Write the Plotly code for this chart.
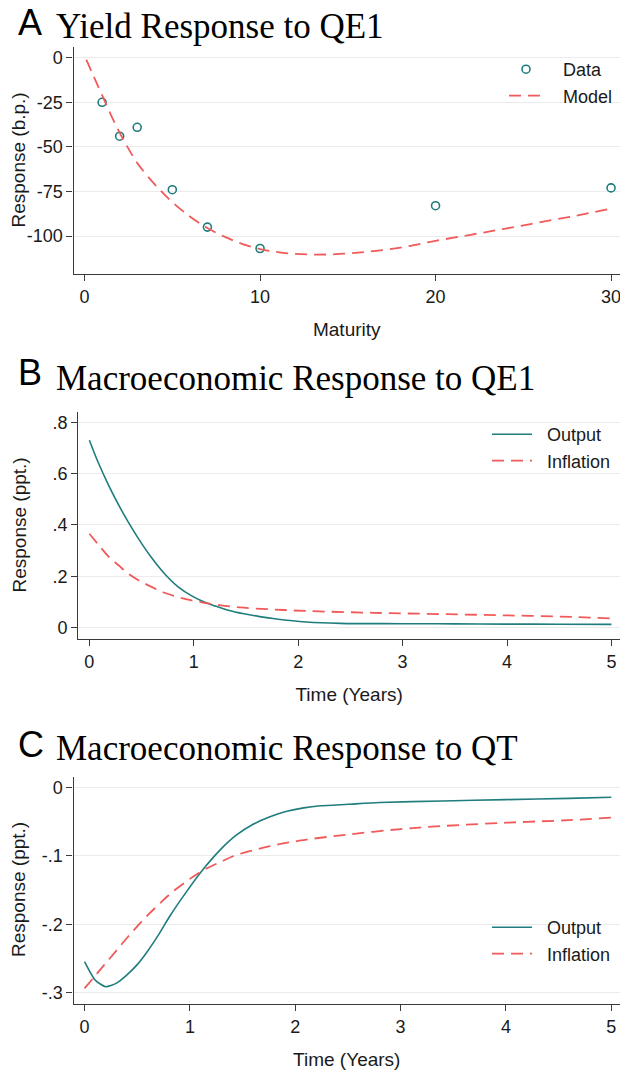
import plotly.graph_objects as go

# ---------------- data ----------------
# Panel A: yield response to QE1
maturity = [1, 2, 3, 5, 7, 10, 20, 30]
yield_data = [-25, -44, -39, -74, -95, -107, -83, -73]
model_x = [0.1, 0.5, 1, 1.5, 2, 2.5, 3, 4, 5, 6, 7, 8, 9, 10, 11, 12, 13, 14,
           15, 16, 18, 20, 22, 24, 26, 28, 29.8]
model_y = [-1, -10, -21, -32, -42, -51, -59, -71, -81, -89, -95.5, -100.5,
           -104.5, -107.3, -109, -110, -110.4, -110.3, -109.8, -109, -106.5,
           -102.7, -99.3, -95.8, -92.2, -88.6, -85]
a_yticks = [0, -25, -50, -75, -100]
a_yticktext = ["0", "-25", "-50", "-75", "-100"]
a_xticks = [0, 10, 20, 30]

# Panel B: macro response to QE1
t_b_out = [0, 0.085, 0.18, 0.28, 0.37, 0.47, 0.6, 0.72, 0.85, 0.98, 1.1, 1.2,
           1.33, 1.48, 1.62, 1.76, 1.92, 2.08, 2.4, 3.0, 3.5, 4.0, 4.5, 5.0]
output_b = [0.730, 0.643, 0.558, 0.478, 0.413, 0.347, 0.270, 0.210, 0.159,
            0.124, 0.100, 0.085, 0.068, 0.054, 0.044, 0.036, 0.028, 0.022,
            0.017, 0.0155, 0.015, 0.014, 0.0135, 0.013]
t_b_inf = [0, 0.085, 0.18, 0.28, 0.37, 0.47, 0.6, 0.72, 0.85, 0.98, 1.1, 1.2,
           1.44, 1.76, 2.08, 2.72, 3.36, 4.0, 4.63, 5.0]
inflation_b = [0.366, 0.324, 0.279, 0.243, 0.211, 0.185, 0.158, 0.136, 0.119,
               0.106, 0.097, 0.091, 0.079, 0.071, 0.065, 0.058, 0.053, 0.048,
               0.042, 0.036]
b_yticks = [0, 0.2, 0.4, 0.6, 0.8]
b_yticktext = ["0", ".2", ".4", ".6", ".8"]

# Panel C: macro response to QT
t_c_out = [0, 0.1, 0.2, 0.3, 0.4, 0.5, 0.6, 0.7, 0.81, 0.97, 1.13, 1.29, 1.44,
           1.6, 1.76, 1.92, 2.08, 2.24, 2.5, 2.8, 3.4, 4.0, 4.6, 5.0]
output_c = [-0.2547, -0.2815, -0.2913, -0.2864, -0.2742, -0.259, -0.239,
            -0.216, -0.188, -0.152, -0.119, -0.091, -0.070, -0.054, -0.043,
            -0.035, -0.030, -0.027, -0.0248, -0.0222, -0.0200, -0.0180,
            -0.0161, -0.0146]
t_c_inf = [0, 0.1, 0.2, 0.3, 0.4, 0.5, 0.6, 0.7, 0.81, 0.97, 1.13, 1.29, 1.44,
           1.6, 1.76, 2.08, 2.5, 3.0, 3.4, 4.0, 4.6, 5.0]
inflation_c = [-0.2937, -0.2754, -0.2571, -0.2389, -0.2205, -0.2031, -0.1867,
               -0.1718, -0.156, -0.137, -0.121, -0.109, -0.099, -0.092, -0.086,
               -0.077, -0.069, -0.061, -0.0565, -0.0517, -0.0479, -0.0443]
c_yticks = [0, -0.1, -0.2, -0.3]
c_yticktext = ["0", "-.1", "-.2", "-.3"]
bc_xticks = [0, 1, 2, 3, 4, 5]

titles = [("A", "Yield Response to QE1"),
          ("B", "Macroeconomic Response to QE1"),
          ("C", "Macroeconomic Response to QT")]
xtitles = ["Maturity", "Time (Years)", "Time (Years)"]
ytitles = ["Response (b.p.)", "Response (ppt.)", "Response (ppt.)"]

# ---------------- style ----------------
W, H = 620, 1071
TEAL = "#1f7d7d"
RED = "#f05a5a"
SANS = "Liberation Sans, Arial, sans-serif"
SERIF = "Liberation Serif, Times New Roman, serif"
AXC = "#3a3a3a"
GRID = "#ebebeb"
TXT = "#1a1a1a"
DASH = "12px,7px"
NB = "\u00a0"


def px_y(p):
    return 1 - p / H


fig = go.Figure()

fig.add_trace(go.Scatter(x=maturity, y=yield_data, mode="markers", name=NB * 3 + "Data",
                         marker=dict(symbol="circle-open", size=8, color=TEAL,
                                     line=dict(width=1.6, color=TEAL)),
                         xaxis="x", yaxis="y", legend="legend"))
fig.add_trace(go.Scatter(x=model_x, y=model_y, mode="lines", name=NB * 3 + "Model",
                         line=dict(color=RED, width=1.8, dash=DASH, shape="spline"),
                         xaxis="x", yaxis="y", legend="legend"))

fig.add_trace(go.Scatter(x=t_b_out, y=output_b, mode="lines", name=NB * 2 + "Output",
                         line=dict(color=TEAL, width=1.6, shape="spline"),
                         xaxis="x2", yaxis="y2", legend="legend2"))
fig.add_trace(go.Scatter(x=t_b_inf, y=inflation_b, mode="lines", name=NB * 2 + "Inflation",
                         line=dict(color=RED, width=1.8, dash=DASH, shape="spline"),
                         xaxis="x2", yaxis="y2", legend="legend2"))

fig.add_trace(go.Scatter(x=t_c_out, y=output_c, mode="lines", name=NB * 2 + "Output",
                         line=dict(color=TEAL, width=1.6, shape="spline", smoothing=0.6),
                         xaxis="x3", yaxis="y3", legend="legend3"))
fig.add_trace(go.Scatter(x=t_c_inf, y=inflation_c, mode="lines", name=NB * 2 + "Inflation",
                         line=dict(color=RED, width=1.8, dash=DASH, shape="spline"),
                         xaxis="x3", yaxis="y3", legend="legend3"))

axis_common = dict(showline=True, linecolor=AXC, linewidth=1.4, ticks="outside",
                   ticklen=6, tickwidth=1.3, tickcolor=AXC, zeroline=False,
                   ticklabeloverflow="allow",
                   tickfont=dict(family=SANS, size=18, color=TXT))
title_font = dict(family=SANS, size=19, color=TXT)

fig.update_layout(
    width=W, height=H, margin=dict(l=0, r=0, t=0, b=0),
    paper_bgcolor="white", plot_bgcolor="white",
    showlegend=True,
    xaxis=dict(domain=[73.5 / W, 1], range=[-0.63, 30.51], tickvals=a_xticks,
               showgrid=False, anchor="y",
               title=dict(text=xtitles[0], font=title_font, standoff=16),
               **axis_common),
    yaxis=dict(domain=[px_y(274), px_y(46.7)], range=[-121.3, 6.2],
               tickvals=a_yticks, ticktext=a_yticktext, showgrid=True,
               gridcolor=GRID, gridwidth=1, anchor="x", **axis_common),
    xaxis2=dict(domain=[78.3 / W, 1], range=[-0.106, 5.082], tickvals=bc_xticks,
                showgrid=False, anchor="y2",
                title=dict(text=xtitles[1], font=title_font, standoff=16),
                **axis_common),
    yaxis2=dict(domain=[px_y(639), px_y(411.7)], range=[-0.044, 0.841],
                tickvals=b_yticks, ticktext=b_yticktext, showgrid=True,
                gridcolor=GRID, gridwidth=1, anchor="x2", **axis_common),
    xaxis3=dict(domain=[73.5 / W, 1], range=[-0.105, 5.083], tickvals=bc_xticks,
                showgrid=False, anchor="y3",
                title=dict(text=xtitles[2], font=title_font, standoff=16),
                **axis_common),
    yaxis3=dict(domain=[px_y(1004), px_y(776.7)], range=[-0.3165, 0.0155],
                tickvals=c_yticks, ticktext=c_yticktext, showgrid=True,
                gridcolor=GRID, gridwidth=1, anchor="x3", **axis_common),
)

leg_common = dict(xanchor="left", yanchor="top", bgcolor="rgba(0,0,0,0)",
                  font=dict(family=SANS, size=18, color=TXT), tracegroupgap=0)
fig.update_layout(
    legend=dict(x=504 / W, y=px_y(51), itemwidth=34, **leg_common),
    legend2=dict(x=487 / W, y=px_y(416), itemwidth=40, **leg_common),
    legend3=dict(x=487 / W, y=px_y(909), itemwidth=40, **leg_common),
)

# panel titles
letter_y = [22, 372.5, 744]
title_y = [26, 378.8, 748.8]
for (letter, text), ly, ty in zip(titles, letter_y, title_y):
    fig.add_annotation(text=letter, xref="paper", yref="paper", x=16 / W,
                       y=px_y(ly), xanchor="left", yanchor="middle",
                       showarrow=False,
                       font=dict(family=SANS, size=36, color="black"))
    fig.add_annotation(text=text, xref="paper", yref="paper", x=54 / W,
                       y=px_y(ty), xanchor="left", yanchor="middle",
                       showarrow=False,
                       font=dict(family=SERIF, size=35, color="black"))

# y-axis titles
ytitle_x = [18, 18.5, 18]
ytitle_y = [160.5, 525, 890]
for text, xx, yy in zip(ytitles, ytitle_x, ytitle_y):
    fig.add_annotation(text=text, xref="paper", yref="paper", x=xx / W,
                       y=px_y(yy), xanchor="center", yanchor="middle",
                       textangle=-90, showarrow=False, font=title_font)

fig.write_html("out.html")
